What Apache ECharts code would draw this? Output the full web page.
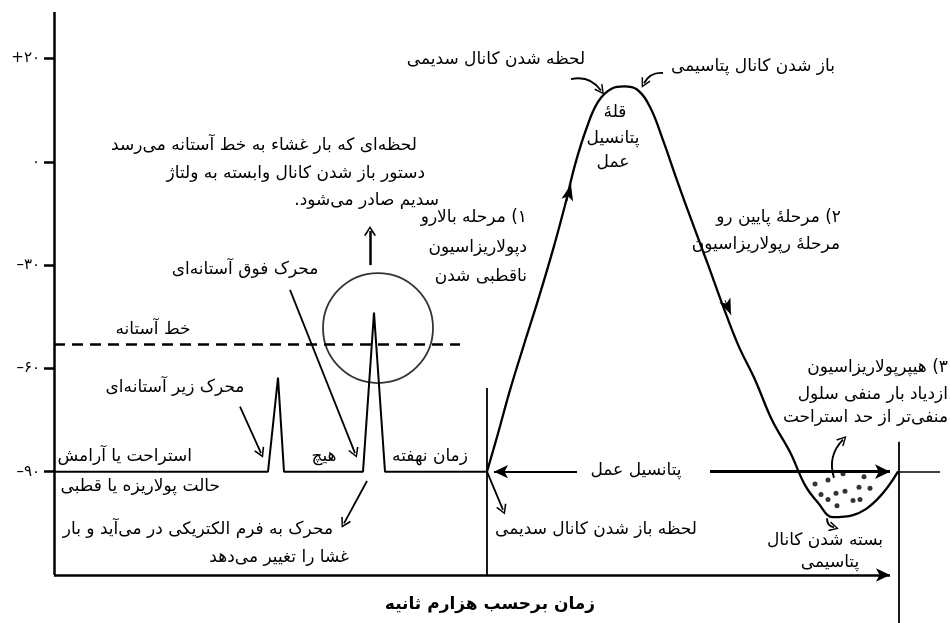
<!DOCTYPE html>
<html>
<head>
<meta charset="utf-8">
<script src="https://cdn.jsdelivr.net/npm/echarts@6/dist/echarts.min.js"></script>
<style>
html, body { margin: 0; padding: 0; background: #fff; }
#chart { width: 950px; height: 623px; direction: rtl; }
</style>
</head>
<body>
<div id="chart"></div>
<script>
// y is measured in tick steps: 0 = -90, 1 = -60, 2 = -30, 3 = 0, 4 = +20
var yTickValues = [0, 1, 2, 3, 4];
var yTickLabels = ['–۹۰', '–۶۰', '–۳۰', '۰', '+۲۰'];

// resting level with the two stimulus spikes (time, level)
var restTrace = [[0, 0], [2.14, 0], [2.24, 0.91], [2.30, 0], [3.09, 0], [3.20, 1.54], [3.31, 0], [4.33, 0]];

// action potential
var actionTrace = [
  [4.33, 0], [4.44, 0.37], [4.56, 0.79], [4.70, 1.23], [4.84, 1.66], [4.99, 2.15],
  [5.11, 2.58], [5.21, 2.97], [5.32, 3.31], [5.44, 3.58], [5.58, 3.71], [5.70, 3.73],
  [5.83, 3.70], [5.96, 3.53], [6.09, 3.21], [6.23, 2.82], [6.38, 2.42], [6.53, 2.03],
  [6.68, 1.63], [6.84, 1.23], [7.01, 0.89], [7.18, 0.50], [7.36, 0.19], [7.51, -0.13],
  [7.64, -0.30], [7.79, -0.44], [7.99, -0.42], [8.23, -0.27], [8.44, 0]
];

var thresholdLevel = 1.23;
var thresholdEnd = 4.06;

// potassium ions in the undershoot
var ionDots = [
  [7.61, -0.12], [7.74, -0.08], [7.89, -0.02], [8.10, -0.05], [7.67, -0.22],
  [7.82, -0.21], [7.91, -0.19], [8.05, -0.15], [8.16, -0.16], [7.74, -0.27],
  [7.83, -0.33], [7.99, -0.28], [8.06, -0.27]
];

// curved pointers: [from, to, bend]
var curvedPointers = [
  [[5.17, 3.80], [5.47, 3.69], 0.33],
  [[6.09, 3.86], [5.90, 3.76], -0.33],
  [[7.80, -0.06], [7.89, 0.31], 0.3],
  [[7.73, -0.45], [7.80, -0.54], -0.4]
];

var FONT = '17px "DejaVu Sans"';
var OPEN = 'path://M0,12 L6,0 L12,12 L10.4,12.9 L6,3.6 L1.6,12.9 Z';

function seg(a, b, opt) {
  opt = opt || {};
  var s = { coord: a, symbol: 'none' };
  var e = { coord: b, symbol: opt.head || 'none', symbolSize: opt.size || [10, 12] };
  var style = { color: '#000', width: opt.width || 2, type: opt.dash || 'solid' };
  return [Object.assign(s, { lineStyle: style }), e];
}

function note(text, x, y, align, font) {
  return {
    type: 'text', x: x, y: y, silent: true,
    style: {
      text: text, fill: '#000', align: align || 'center', verticalAlign: 'middle',
      font: font || FONT
    }
  };
}

var option = {
  animation: false,
  backgroundColor: '#fff',
  grid: { left: 54, right: 5, top: 12, bottom: 0 },
  xAxis: {
    type: 'value', min: 0, max: 8.91,
    axisLine: { show: false }, axisTick: { show: false },
    axisLabel: { show: false }, splitLine: { show: false }
  },
  yAxis: {
    type: 'value', min: -1.465, max: 4.45,
    axisLine: { show: false },
    axisTick: { show: true, customValues: yTickValues, length: 10, lineStyle: { color: '#000', width: 2.5 } },
    axisLabel: {
      customValues: yTickValues, margin: 14, color: '#000',
      fontFamily: 'DejaVu Sans', fontSize: 15,
      formatter: function (v) { return '\u200E' + yTickLabels[Math.round(v)]; }
    },
    splitLine: { show: false }
  },
  series: [
    {
      name: 'rest', type: 'line', data: restTrace, symbol: 'none',
      lineStyle: { color: '#000', width: 2 }
    },
    {
      name: 'action', type: 'line', data: actionTrace, symbol: 'none', smooth: 0.4,
      lineStyle: { color: '#000', width: 2.3 }
    },
    {
      name: 'threshold', type: 'line', symbol: 'none',
      data: [[0, thresholdLevel], [thresholdEnd, thresholdLevel]],
      lineStyle: { color: '#000', width: 2.5, type: [11, 7] }
    },
    {
      name: 'ions', type: 'scatter', data: ionDots, symbolSize: 5,
      itemStyle: { color: '#000' }
    },
    {
      name: 'ring', type: 'scatter', data: [[3.24, 1.39]], symbolSize: 110,
      itemStyle: { color: 'rgba(0,0,0,0)', borderColor: '#000', borderWidth: 1.8 }
    },
    {
      name: 'bent', type: 'lines', coordinateSystem: 'cartesian2d', silent: true,
      symbol: ['none', OPEN], symbolSize: [11, 10],
      lineStyle: { color: '#000', width: 1.9, opacity: 1 },
      data: curvedPointers.map(function (p) {
        return { coords: [p[0], p[1]], lineStyle: { curveness: p[2] } };
      })
    },
    {
      name: 'guides', type: 'line', data: [],
      markLine: {
        silent: true, animation: false,
        label: { show: false },
        emphasis: { disabled: true },
        data: [
          // axes
          seg([0, -1], [0, 4.45], { width: 2.5 }),
          seg([0, -1], [8.36, -1], { width: 2.5, head: 'arrow', size: [10, 14] }),
          // vertical markers
          seg([4.33, -1], [4.33, 0.81], { width: 1.8 }),
          seg([8.45, -1.465], [8.45, 0.29], { width: 1.8 }),
          // action potential span
          seg([5.23, 0], [4.40, 0], { width: 2, head: 'arrow', size: [10, 14] }),
          seg([6.56, 0], [8.36, 0], { width: 3, head: 'arrow', size: [11, 15] }),
          seg([8.43, 0], [8.86, 0], { width: 1.5 }),
          // direction heads on the curve
          seg([5.13, 2.62], [5.17, 2.78], { width: 1, head: 'arrow', size: [9, 16] }),
          seg([6.71, 1.66], [6.77, 1.52], { width: 1, head: 'arrow', size: [9, 16] }),
          // pointers
          seg([3.16, 2.0], [3.16, 2.33], { width: 2.5, head: OPEN, size: [12, 10] }),
          seg([2.36, 1.76], [3.01, 0.18], { width: 1.8, head: OPEN, size: [11, 10] }),
          seg([1.86, 0.63], [2.07, 0.18], { width: 1.8, head: OPEN, size: [11, 10] }),
          seg([3.13, -0.09], [2.90, -0.50], { width: 1.8, head: OPEN, size: [11, 10] }),
          seg([4.33, 0], [4.49, -0.37], { width: 1.8, head: OPEN, size: [11, 10] })
        ]
      }
    }
  ],
  graphic: [
    note('لحظه‌ای که بار غشاء به خط آستانه می‌رسد', 417, 146, 'right'),
    note('دستور باز شدن کانال وابسته به ولتاژ', 425, 174, 'right'),
    note('سدیم صادر می‌شود.', 439, 201, 'right'),
    note('محرک فوق آستانه‌ای', 245, 270),
    note('خط آستانه', 153, 330),
    note('محرک زیر آستانه‌ای', 175, 388),
    note('استراحت یا آرامش', 192, 457, 'right'),
    note('حالت پولاریزه یا قطبی', 220, 487, 'right'),
    note('هیچ', 324, 457),
    note('زمان نهفته', 430, 457),
    note('محرک به فرم الکتریکی در می‌آید و بار', 333, 530, 'right'),
    note('غشا را تغییر می‌دهد', 349, 558, 'right'),
    note('لحظه شدن کانال سدیمی', 496, 60),
    note('باز شدن کانال پتاسیمی', 753, 67),
    note('قلهٔ', 615, 113),
    note('پتانسیل', 613, 139),
    note('عمل', 613, 163),
    note('۱) مرحله بالارو', 527, 218, 'right'),
    note('دپولاریزاسیون', 527, 248, 'right'),
    note('ناقطبی شدن', 527, 277, 'right'),
    note('۲) مرحلهٔ پایین رو', 841, 218, 'right'),
    note('مرحلهٔ رپولاریزاسیون', 840, 245, 'right'),
    note('۳) هیپرپولاریزاسیون', 948, 368, 'right'),
    note('ازدیاد بار منفی سلول', 948, 395, 'right'),
    note('منفی‌تر از حد استراحت', 948, 418, 'right'),
    note('پتانسیل عمل', 636, 471),
    note('لحظه باز شدن کانال سدیمی', 596, 530),
    note('بسته شدن کانال', 825, 541),
    note('پتاسیمی', 830, 563),
    note('زمان برحسب هزارم ثانیه', 490, 605, 'center', 'bold 17px "DejaVu Sans"')
  ]
};

var myChart = echarts.init(document.getElementById('chart'));
myChart.setOption(option);
</script>
</body>
</html>
